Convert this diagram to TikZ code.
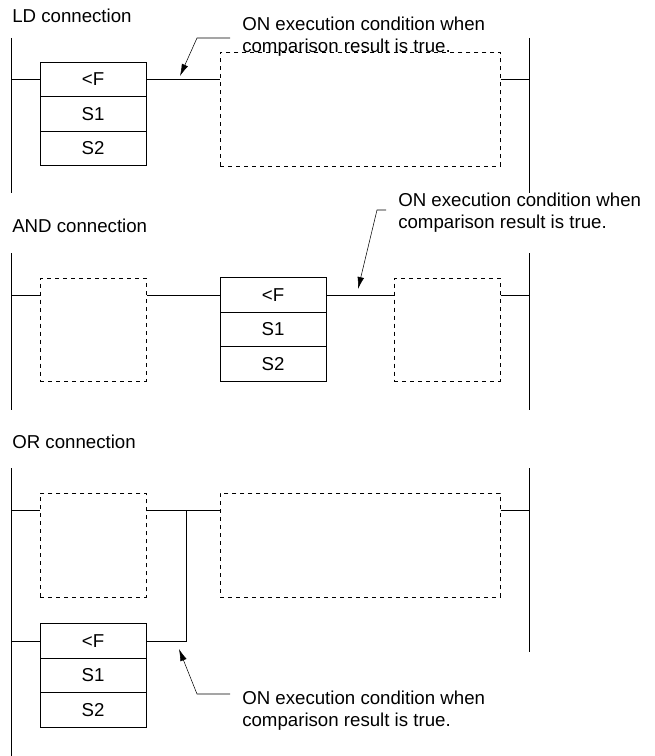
\documentclass[tikz,border=0pt]{standalone}
\usepackage{fontspec}
\setmainfont{Liberation Sans}
\usetikzlibrary{arrows.meta}

\begin{document}
\begin{tikzpicture}[x=0.75pt, y=-0.75pt, >={Latex[length=9pt,width=5pt]},
    every node/.style={font=\fontsize{14}{16.5}\selectfont},
    cell/.style={rectangle, draw, fill=white, minimum width=79.5pt, minimum height=25.9pt, inner sep=0pt},
    block/.style={rectangle, draw, dashed, anchor=north west, inner sep=0pt},
    rail/.style={semithick},
    note/.style={align=left, anchor=west, inner sep=0pt}]

    \useasboundingbox (0,0) rectangle (654,756);

    % LD connection
    \node[anchor=base west, inner sep=0pt] (titleA) at (12,23) {LD connection};
    \draw[rail] (11,38) coordinate (lA1) -- (11,193) coordinate (lA2);
    \draw[rail] (529,38) coordinate (rA1) -- (529,193) coordinate (rA2);
    \node[cell] (cmpA) at (93,79.5) {<F};
    \node[cell] (cmpA1) at (93,114) {S1};
    \node[cell] (cmpA2) at (93,148.5) {S2};
    \node[block, minimum width=210pt, minimum height=85.5pt] (blkA) at (220,52) {};
    \draw (lA1 |- cmpA) -- (cmpA.west);
    \draw (cmpA.east) -- (blkA.west |- cmpA);
    \draw (blkA.east |- cmpA) -- (rA1 |- cmpA);
    \node[note] (noteA) at (242,37) {ON execution condition when\\comparison result is true.};
    \coordinate (tipA) at (180,76);
    \draw[->] (230,38) -- (197,38) -- (tipA);

    % AND connection
    \node[anchor=base west, inner sep=0pt] (titleB) at (12,232) {AND connection};
    \draw[rail] (11,253) coordinate (lB1) -- (11,410) coordinate (lB2);
    \draw[rail] (529,253) coordinate (rB1) -- (529,410) coordinate (rB2);
    \node[block, minimum width=79.5pt, minimum height=77pt] (blkB) at (40,278) {};
    \node[cell] (cmpB) at (273,295) {<F};
    \node[cell] (cmpB1) at (273,329.5) {S1};
    \node[cell] (cmpB2) at (273,364) {S2};
    \node[block, minimum width=79.5pt, minimum height=77pt] (blkC) at (394,278) {};
    \draw (lB1 |- cmpB) -- (blkB.west |- cmpB);
    \draw (blkB.east |- cmpB) -- (cmpB.west);
    \draw (cmpB.east) -- (blkC.west |- cmpB);
    \draw (blkC.east |- cmpB) -- (rB1 |- cmpB);
    \node[note] (noteB) at (398,213) {ON execution condition when\\comparison result is true.};
    \coordinate (tipB) at (358,289);
    \draw[->] (386,210) -- (377,210) -- (tipB);

    % OR connection
    \node[anchor=base west, inner sep=0pt] (titleC) at (12,448) {OR connection};
    \draw[rail] (11,468) coordinate (lC1) -- (11,756) coordinate (lC2);
    \draw[rail] (529,468) coordinate (rC1) -- (529,652) coordinate (rC2);
    \node[block, minimum width=79.5pt, minimum height=78pt] (blkD) at (40,493) {};
    \node[block, minimum width=210pt, minimum height=78pt] (blkE) at (220,493) {};
    \node[cell] (cmpC) at (93,641) {<F};
    \node[cell] (cmpC1) at (93,675.5) {S1};
    \node[cell] (cmpC2) at (93,710) {S2};
    \coordinate (jC) at (186,510);
    \draw (lC1 |- jC) -- (blkD.west |- jC);
    \draw (blkD.east |- jC) -- (blkE.west |- jC);
    \draw (blkE.east |- jC) -- (rC1 |- jC);
    \draw (lC1 |- cmpC) -- (cmpC.west);
    \draw (cmpC.east) -| (jC);
    \node[note] (noteC) at (242,711) {ON execution condition when\\comparison result is true.};
    \coordinate (tipC) at (179,649);
    \draw[->] (230,694) -- (197,694) -- (tipC);
\end{tikzpicture}
\end{document}
